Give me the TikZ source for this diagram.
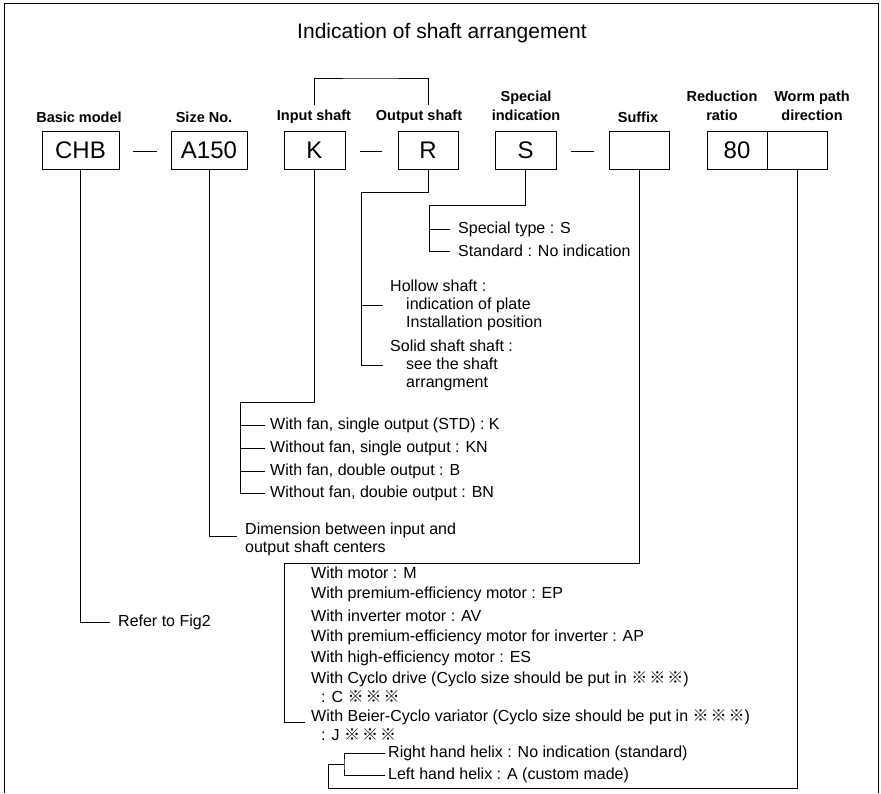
\documentclass[tikz,border=0pt]{standalone}
\usepackage{fontspec}
\setmainfont{Liberation Sans}
\newfontfamily\cjk{Noto Sans CJK JP}
\newcommand{\refmarks}{{\cjk ※}\hspace{2pt}{\cjk ※}\hspace{2pt}{\cjk ※}}
\newcommand{\bodyfont}{\fontsize{16}{18}\selectfont}

\begin{document}
\begin{tikzpicture}[x=1pt, y=-1pt,
  frame/.style={line width=1pt},
  conn/.style={line width=0.8pt},
  hdr/.style={font=\fontsize{14.5}{19}\selectfont\bfseries, align=center, inner sep=1pt},
  codebox/.style={draw, line width=0.9pt, minimum height=38pt, inner sep=0pt,
    font=\fontsize{24}{28}\selectfont},
  dashmark/.style={inner sep=0pt},
  lbl/.style={anchor=west, inner xsep=5pt, inner ysep=1pt, font=\bodyfont, align=left}]
\useasboundingbox (0,0) rectangle (881,793);

% Outer frame
\draw[frame] (4,793) -- (4,3) -- (878,3) -- (878,793);
\node (title) at (442,33) {\fontsize{21}{25}\selectfont Indication of shaft arrangement};

% Column headings
\node[hdr] (hbasic) at (79,117) {Basic model};
\node[hdr] (hsize) at (204,117) {Size No.};
\node[hdr] (hin) at (314,117) {Input shaft};
\node[hdr] (hout) at (419,117) {Output shaft};
\node[hdr] (hspec) at (526,106) {Special\\indication};
\node[hdr] (hsuf) at (638,117) {Suffix};
\node[hdr] (hred) at (722,106) {Reduction\\ratio};
\node[hdr] (hworm) at (812,106) {Worm path\\direction};

% Code boxes
\node[codebox, minimum width=77pt] (chb) at (80.5,150) {CHB};
\node[codebox, minimum width=76pt] (size) at (209,150) {A150};
\node[codebox, minimum width=61pt] (inp) at (314.5,150) {K};
\node[codebox, minimum width=60pt] (outp) at (428,150) {R};
\node[codebox, minimum width=61pt] (spec) at (525.5,150) {S};
\node[codebox, minimum width=60pt] (suf) at (639,150) {};
\node[codebox, minimum width=60pt] (ratio) at (737,150) {80};
\node[codebox, minimum width=60pt] (worm) at (797,150) {};
\node[dashmark] (dash1) at (145,151) {\rule{24pt}{0.8pt}};
\node[dashmark] (dash2) at (371,151) {\rule{22pt}{0.8pt}};
\node[dashmark] (dash3) at (582.5,151) {\rule{23pt}{0.8pt}};

% Bracket joining input and output shaft
\coordinate (bk) at (370,78);
\draw[conn] ([yshift=4pt]inp |- hin.north) |- (bk) -| ([yshift=4pt]outp |- hout.north);

% Special indication
\coordinate (sturn) at (429,205);
\node[lbl, inner xsep=8pt] (stype) at (450,229) {Special type : S};
\node[lbl, inner xsep=8pt] (std) at (450,251) {Standard : No indication};
\draw[conn] (spec.south) |- (sturn) |- (std.west);
\draw[conn] (stype.west) -- (stype.west -| sturn);

% Output shaft
\coordinate (rturn) at (361,192);
\node[lbl, inner xsep=7pt, font=\fontsize{16}{18}\selectfont] (hollow) at (383,305)
  {Hollow shaft :\\\hspace*{16pt}indication of plate\\\hspace*{16pt}Installation position};
\node[lbl, inner xsep=7pt, font=\fontsize{16}{18}\selectfont] (solid) at (383,365)
  {Solid shaft shaft :\\\hspace*{16pt}see the shaft\\\hspace*{16pt}arrangment};
\draw[conn] (outp.south) |- (rturn) |- (solid.west);
\draw[conn] (hollow.west) -- (hollow.west -| rturn);

% Input shaft
\coordinate (kturn) at (240,402);
\node[lbl] (k1) at (265,425) {With fan, single output (STD) : K};
\node[lbl] (k2) at (265,448) {Without fan, single output : KN};
\node[lbl] (k3) at (265,471) {With fan, double output : B};
\node[lbl] (k4) at (265,493) {Without fan, doubie output : BN};
\draw[conn] (inp.south) |- (kturn) |- (k4.west);
\foreach \n in {k1,k2,k3}
  \draw[conn] (\n.west) -- (\n.west -| kturn);

% Size No.
\node[lbl, inner xsep=8pt] (dim1) at (237,530) {Dimension between input and};
\node[lbl, inner xsep=8pt] (dim2) at (237,548) {output shaft centers};
\draw[conn] (size.south) |- ([yshift=-6pt]dim1.west);

% Basic model
\node[lbl, inner xsep=8pt] (fig2) at (110,622) {Refer to Fig2};
\draw[conn] (chb.south) |- (fig2.west);

% Suffix
\coordinate (sfturn) at (284,563);
\node[lbl, inner xsep=6pt] (sx1) at (305,573) {With motor : M};
\node[lbl, inner xsep=6pt] (sx2) at (305,594) {With premium-efficiency motor : EP};
\node[lbl, inner xsep=6pt] (sx3) at (305,616) {With inverter motor : AV};
\node[lbl, inner xsep=6pt] (sx4) at (305,637) {With premium-efficiency motor for inverter : AP};
\node[lbl, inner xsep=6pt] (sx5) at (305,658) {With high-efficiency motor : ES};
\node[lbl, inner xsep=6pt] (sx6) at (305,679) {With Cyclo drive (Cyclo size should be put in \refmarks)};
\node[lbl, inner xsep=6pt] (sx6b) at (305,697) {\hspace*{10pt}: C \refmarks};
\node[lbl, inner xsep=6pt] (beier) at (305,717) {With Beier-Cyclo variator (Cyclo size should be put in \refmarks)};
\node[lbl, inner xsep=6pt] (beierb) at (305,735) {\hspace*{10pt}: J \refmarks};
\draw[conn] (suf.south) |- (sfturn) |- ([yshift=-5pt]beier.west);

% Worm path direction
\coordinate (wbot) at (328,788);
\coordinate (hx) at (344,764);
\node[lbl, inner xsep=3pt] (rhelix) at (385,753) {Right hand helix : No indication (standard)};
\node[lbl, inner xsep=3pt] (lhelix) at (385,775) {Left hand helix : A (custom made)};
\draw[conn] (worm.south) |- (wbot) |- (hx);
\draw[conn] (rhelix.west) -| (hx) |- (lhelix.west);
\end{tikzpicture}
\end{document}
